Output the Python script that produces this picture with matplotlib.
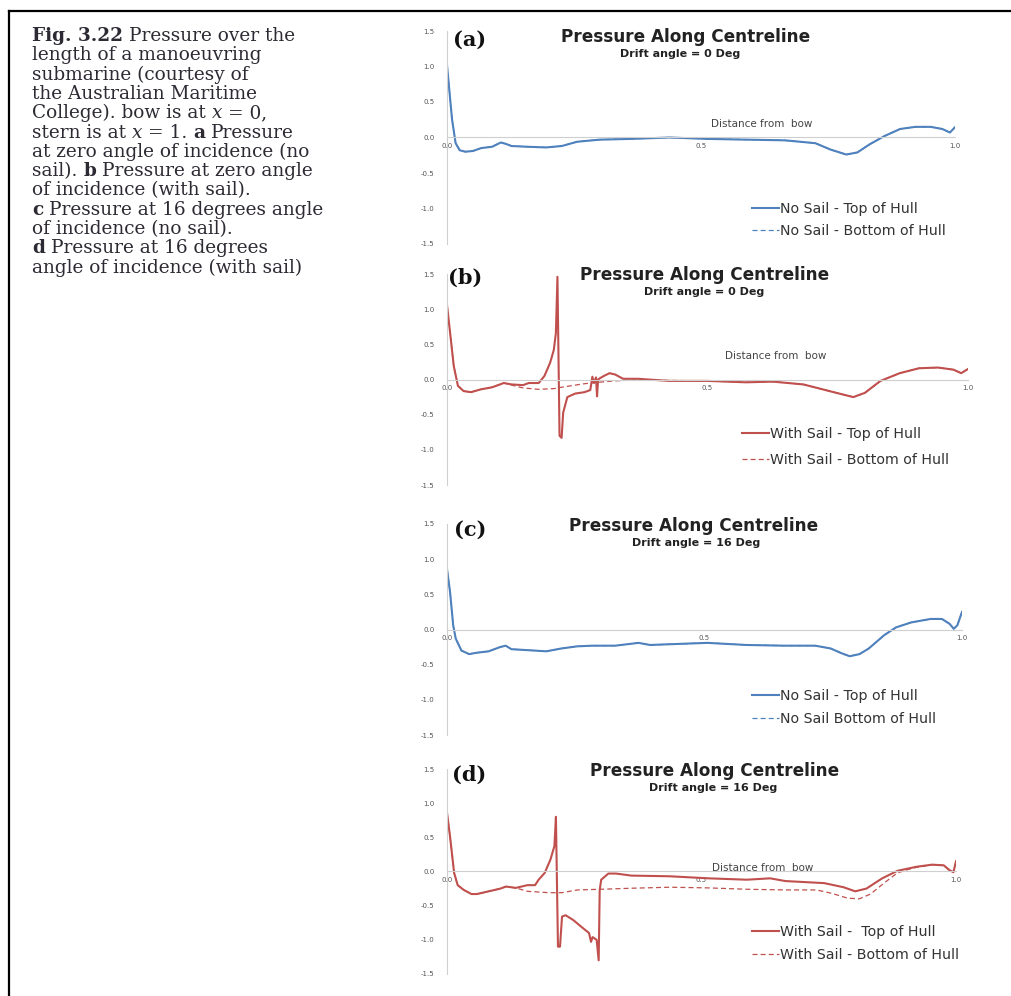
import matplotlib.pyplot as plt
from matplotlib.lines import Line2D

plt.rcParams['axes.unicode_minus'] = False

W, H = 1011, 996

# ---- values (x = distance from bow, y = pressure)
# (a) no sail, drift 0 deg -- top and bottom of hull coincide
xa = [0, 0.01, 0.017, 0.025, 0.036, 0.051, 0.067, 0.089, 0.106, 0.116, 0.127, 0.157,
      0.195, 0.226, 0.256, 0.301, 0.362, 0.438, 0.513, 0.589, 0.665, 0.725, 0.755,
      0.786, 0.808, 0.831, 0.861, 0.892, 0.922, 0.952, 0.975, 0.99, 1.0]
ya_top = [1.02, 0.25, -0.08, -0.18, -0.2, -0.19, -0.15, -0.13, -0.07, -0.09, -0.12, -0.13,
          -0.14, -0.12, -0.06, -0.03, -0.02, 0.0, -0.02, -0.03, -0.04, -0.08, -0.17,
          -0.24, -0.21, -0.1, 0.02, 0.12, 0.15, 0.15, 0.12, 0.07, 0.145]
ya_bot = ya_top

# (b) with sail, drift 0 deg
xb = [0, 0.006, 0.013, 0.021, 0.032, 0.046, 0.065, 0.087, 0.109, 0.124,
      0.146, 0.157, 0.176, 0.187, 0.198, 0.205, 0.209, 0.212, 0.216, 0.220,
      0.223, 0.231, 0.246, 0.264, 0.275, 0.279, 0.282, 0.286, 0.288, 0.29,
      0.294, 0.301, 0.312, 0.323, 0.338, 0.367, 0.426, 0.5, 0.574, 0.625,
      0.684, 0.721, 0.758, 0.78, 0.802, 0.832, 0.869, 0.906, 0.942, 0.972,
      0.987, 1.0]
yb_top = [1.06, 0.66, 0.19, -0.09, -0.165, -0.18, -0.14, -0.11, -0.05, -0.07,
          -0.08, -0.05, -0.05, 0.05, 0.24, 0.42, 0.66, 1.46, -0.8, -0.83,
          -0.47, -0.25, -0.2, -0.18, -0.15, 0.04, -0.05, 0.03, -0.24, 0.0,
          0.02, 0.05, 0.09, 0.07, 0.01, 0.01, -0.02, -0.02, -0.04, -0.03,
          -0.07, -0.14, -0.21, -0.25, -0.19, -0.02, 0.09, 0.16, 0.17, 0.14,
          0.09, 0.15]
xb_bot = [0, 0.006, 0.013, 0.021, 0.032, 0.046, 0.065, 0.087, 0.109, 0.124, 0.146,
          0.176, 0.205, 0.22, 0.246, 0.264, 0.29, 0.32, 0.35, 0.4, 0.5, 0.574, 0.625,
          0.684, 0.721, 0.758, 0.78, 0.802, 0.832, 0.869, 0.906, 0.942, 0.972, 0.987, 1.0]
yb_bot = [1.06, 0.66, 0.19, -0.09, -0.165, -0.18, -0.14, -0.11, -0.05, -0.08, -0.12,
          -0.14, -0.13, -0.11, -0.08, -0.06, -0.04, -0.02, -0.01, -0.01, -0.02, -0.04, -0.03,
          -0.07, -0.14, -0.21, -0.25, -0.19, -0.02, 0.09, 0.16, 0.17, 0.14, 0.09, 0.15]

# (c) no sail, drift 16 deg -- top and bottom coincide
xc = [0, 0.006, 0.012, 0.017, 0.028, 0.043, 0.058, 0.081, 0.103, 0.114, 0.125, 0.148,
      0.193, 0.222, 0.252, 0.282, 0.327, 0.372, 0.394, 0.431, 0.506, 0.581, 0.655,
      0.715, 0.745, 0.767, 0.782, 0.801, 0.819, 0.849, 0.872, 0.901, 0.939, 0.961,
      0.976, 0.984, 0.991, 1.0]
yc_top = [0.86, 0.53, 0.06, -0.13, -0.30, -0.35, -0.33, -0.31, -0.25, -0.23, -0.28, -0.29,
          -0.31, -0.27, -0.24, -0.23, -0.23, -0.19, -0.22, -0.21, -0.19, -0.22, -0.23,
          -0.23, -0.27, -0.34, -0.38, -0.35, -0.27, -0.08, 0.03, 0.10, 0.15, 0.15,
          0.08, 0.01, 0.06, 0.25]
yc_bot = yc_top

# (d) with sail, drift 16 deg
xd = [0, 0.006, 0.014, 0.021, 0.033, 0.048, 0.059, 0.082, 0.105, 0.116,
      0.135, 0.158, 0.173, 0.18, 0.192, 0.203, 0.211, 0.214, 0.218, 0.222,
      0.226, 0.233, 0.248, 0.264, 0.279, 0.283, 0.286, 0.29, 0.294, 0.298,
      0.3, 0.303, 0.317, 0.332, 0.362, 0.438, 0.514, 0.589, 0.635, 0.665,
      0.741, 0.779, 0.802, 0.824, 0.855, 0.885, 0.923, 0.953, 0.976, 0.987,
      0.995, 1.0]
yd_top = [0.86, 0.51, -0.02, -0.2, -0.27, -0.33, -0.33, -0.29, -0.25, -0.22,
          -0.24, -0.2, -0.2, -0.12, -0.02, 0.17, 0.37, 0.8, -1.1, -1.1,
          -0.66, -0.64, -0.71, -0.81, -0.9, -1.03, -0.96, -0.98, -1.0, -1.3,
          -0.27, -0.12, -0.03, -0.03, -0.06, -0.07, -0.1, -0.12, -0.1, -0.14,
          -0.17, -0.23, -0.29, -0.25, -0.1, 0.01, 0.07, 0.1, 0.09, 0.02,
          -0.01, 0.15]
xd_bot = [0, 0.006, 0.014, 0.021, 0.033, 0.048, 0.059, 0.082, 0.105, 0.116,
          0.135, 0.158, 0.2, 0.226, 0.256, 0.302, 0.362, 0.438, 0.514, 0.589,
          0.665, 0.726, 0.756, 0.787, 0.81, 0.832, 0.862, 0.885, 0.915, 0.953,
          0.976, 0.987, 0.995, 1.0]
yd_bot = [0.86, 0.51, -0.02, -0.2, -0.27, -0.33, -0.33, -0.29, -0.25, -0.22,
          -0.24, -0.29, -0.31, -0.31, -0.27, -0.26, -0.245, -0.23, -0.24, -0.26,
          -0.27, -0.27, -0.32, -0.39, -0.4, -0.33, -0.15, -0.02, 0.05, 0.1,
          0.09, 0.02, -0.01, 0.15]

yticks = [-1.5, -1.0, -0.5, 0.0, 0.5, 1.0, 1.5]
ytick_labels = ['-1.5', '-1.0', '-0.5', '0.0', '0.5', '1.0', '1.5']
xticks = [0.0, 0.5, 1.0]
xtick_labels = ['0.0', '0.5', '1.0']

BLUE = '#4f81bd'
RED = '#c0504d'

panels = [
    dict(tag='(a)', sub='Drift angle = 0 Deg', x_top=xa, y_top=ya_top, x_bot=xa, y_bot=ya_bot,
         color=BLUE, labels=['No Sail - Top of Hull', 'No Sail - Bottom of Hull'],
         box=(447, 31, 955, 244), title_xy=(686, 37), sub_xy=(680, 54), tag_xy=(470, 40),
         leg_xy=(752, 202), leg_gap=0.55, dist=(0.62, 0.19)),
    dict(tag='(b)', sub='Drift angle = 0 Deg', x_top=xb, y_top=yb_top, x_bot=xb_bot, y_bot=yb_bot,
         color=RED, labels=['With Sail - Top of Hull', 'With Sail - Bottom of Hull'],
         box=(447, 274, 968, 485), title_xy=(705, 275), sub_xy=(704, 292), tag_xy=(465, 278),
         leg_xy=(742, 427), leg_gap=0.82, dist=(0.63, 0.33)),
    dict(tag='(c)', sub='Drift angle = 16 Deg', x_top=xc, y_top=yc_top, x_bot=xc, y_bot=yc_bot,
         color=BLUE, labels=['No Sail - Top of Hull', 'No Sail Bottom of Hull'],
         box=(447, 524, 962, 735), title_xy=(694, 526), sub_xy=(696, 543), tag_xy=(470, 530),
         leg_xy=(752, 689), leg_gap=0.62, dist=None),
    dict(tag='(d)', sub='Drift angle = 16 Deg', x_top=xd, y_top=yd_top, x_bot=xd_bot, y_bot=yd_bot,
         color=RED, labels=['With Sail -  Top of Hull', 'With Sail - Bottom of Hull'],
         box=(447, 769, 956, 974), title_xy=(715, 771), sub_xy=(713, 788), tag_xy=(469, 775),
         leg_xy=(752, 925), leg_gap=0.62, dist=(0.62, 0.05)),
]

caption = [
    [('Fig. 3.22', 'bold', 'normal'), ('  Pressure over the', 'normal', 'normal')],
    [('length of a manoeuvring', 'normal', 'normal')],
    [('submarine (courtesy of', 'normal', 'normal')],
    [('the Australian Maritime', 'normal', 'normal')],
    [('College). bow is at ', 'normal', 'normal'), ('x', 'normal', 'italic'), (' = 0,', 'normal', 'normal')],
    [('stern is at ', 'normal', 'normal'), ('x', 'normal', 'italic'), (' = 1. ', 'normal', 'normal'),
     ('a', 'bold', 'normal'), (' Pressure', 'normal', 'normal')],
    [('at zero angle of incidence (no', 'normal', 'normal')],
    [('sail). ', 'normal', 'normal'), ('b', 'bold', 'normal'), (' Pressure at zero angle', 'normal', 'normal')],
    [('of incidence (with sail).', 'normal', 'normal')],
    [('c', 'bold', 'normal'), (' Pressure at 16 degrees angle', 'normal', 'normal')],
    [('of incidence (no sail).', 'normal', 'normal')],
    [('d', 'bold', 'normal'), (' Pressure at 16 degrees', 'normal', 'normal')],
    [('angle of incidence (with sail)', 'normal', 'normal')],
]

fig = plt.figure(figsize=(W / 100, H / 100), dpi=100)


def fbox(x0, y0, x1, y1):
    # pixel box (top-left origin) -> figure fraction [l, b, w, h]
    return [x0 / W, 1 - y1 / H, (x1 - x0) / W, (y1 - y0) / H]


for p in panels:
    ax = fig.add_axes(fbox(*p['box']))
    ax.patch.set_alpha(0)
    ax.plot(p['x_bot'], p['y_bot'], color=p['color'], lw=0.9, ls=(0, (4, 2.5)))
    ax.plot(p['x_top'], p['y_top'], color=p['color'], lw=1.5)
    ax.set_xlim(0, 1)
    ax.set_ylim(-1.5, 1.5)
    for side in ['top', 'right']:
        ax.spines[side].set_visible(False)
    ax.spines['bottom'].set_position(('data', 0))
    for side in ['bottom', 'left']:
        ax.spines[side].set_color('#cfcfcf')
        ax.spines[side].set_linewidth(0.8)
    ax.set_xticks(xticks)
    ax.set_xticklabels(xtick_labels)
    ax.set_yticks(yticks)
    ax.set_yticklabels(ytick_labels)
    ax.tick_params(axis='both', length=0, labelsize=5, labelcolor='#555555')
    ax.tick_params(axis='y', pad=9)
    ax.tick_params(axis='x', pad=4)
    if p['dist'] is not None:
        ax.text(p['dist'][0], p['dist'][1], 'Distance from  bow', fontsize=7.5,
                color='#444444', ha='center', va='center')

    tx, ty = p['title_xy']
    fig.text(tx / W, 1 - ty / H, 'Pressure Along Centreline', ha='center', va='center',
             fontsize=12.2, fontweight='bold', family='DejaVu Sans', color='#222222')
    sx, sy = p['sub_xy']
    fig.text(sx / W, 1 - sy / H, p['sub'], ha='center', va='center',
             fontsize=8, fontweight='bold', family='DejaVu Sans', color='#222222')
    gx, gy = p['tag_xy']
    fig.text(gx / W, 1 - gy / H, p['tag'], ha='center', va='center',
             fontsize=15, fontweight='bold', family='DejaVu Serif', color='#111111')

    handles = [Line2D([], [], color=p['color'], lw=1.5),
               Line2D([], [], color=p['color'], lw=0.9, ls=(0, (4, 2.5)))]
    lx, ly = p['leg_xy']
    ax.legend(handles, p['labels'], loc='upper left', bbox_to_anchor=(lx / W, 1 - ly / H),
              bbox_transform=fig.transFigure, frameon=False, fontsize=10.2,
              handlelength=1.9, handletextpad=0.1, labelspacing=p['leg_gap'],
              borderpad=0, borderaxespad=0, labelcolor='#333333')

# caption text on the left, built piece by piece so bold/italic words sit in line
cap = fig.add_axes([0, 0, 1, 1])
cap.axis('off')
cap.set_xlim(0, W)
cap.set_ylim(H, 0)
line_y = 45
for line in caption:
    prev = None
    prev_text = ''
    for text, weight, style in line:
        gap = 5.8 if (text.startswith(' ') or prev_text.endswith(' ')) else 0
        kw = dict(fontsize=13.3, family='DejaVu Serif', fontweight=weight,
                  fontstyle=style, color='#2e2a33', va='bottom', ha='left')
        if prev is None:
            prev = cap.text(32, line_y, text.strip(), **kw)
        else:
            prev = cap.annotate(text.strip(), xy=(1, 0), xycoords=prev,
                                xytext=(gap, 0), textcoords='offset pixels', **kw)
        prev_text = text
    line_y += 19.3

# page frame of the scan
fig.add_artist(Line2D([9 / W, 9 / W], [0, 1 - 11 / H], transform=fig.transFigure,
                      color='black', lw=1.6))
fig.add_artist(Line2D([9 / W, 1], [1 - 11 / H, 1 - 11 / H], transform=fig.transFigure,
                      color='black', lw=1.6))

fig.savefig('out.png', dpi=100)
